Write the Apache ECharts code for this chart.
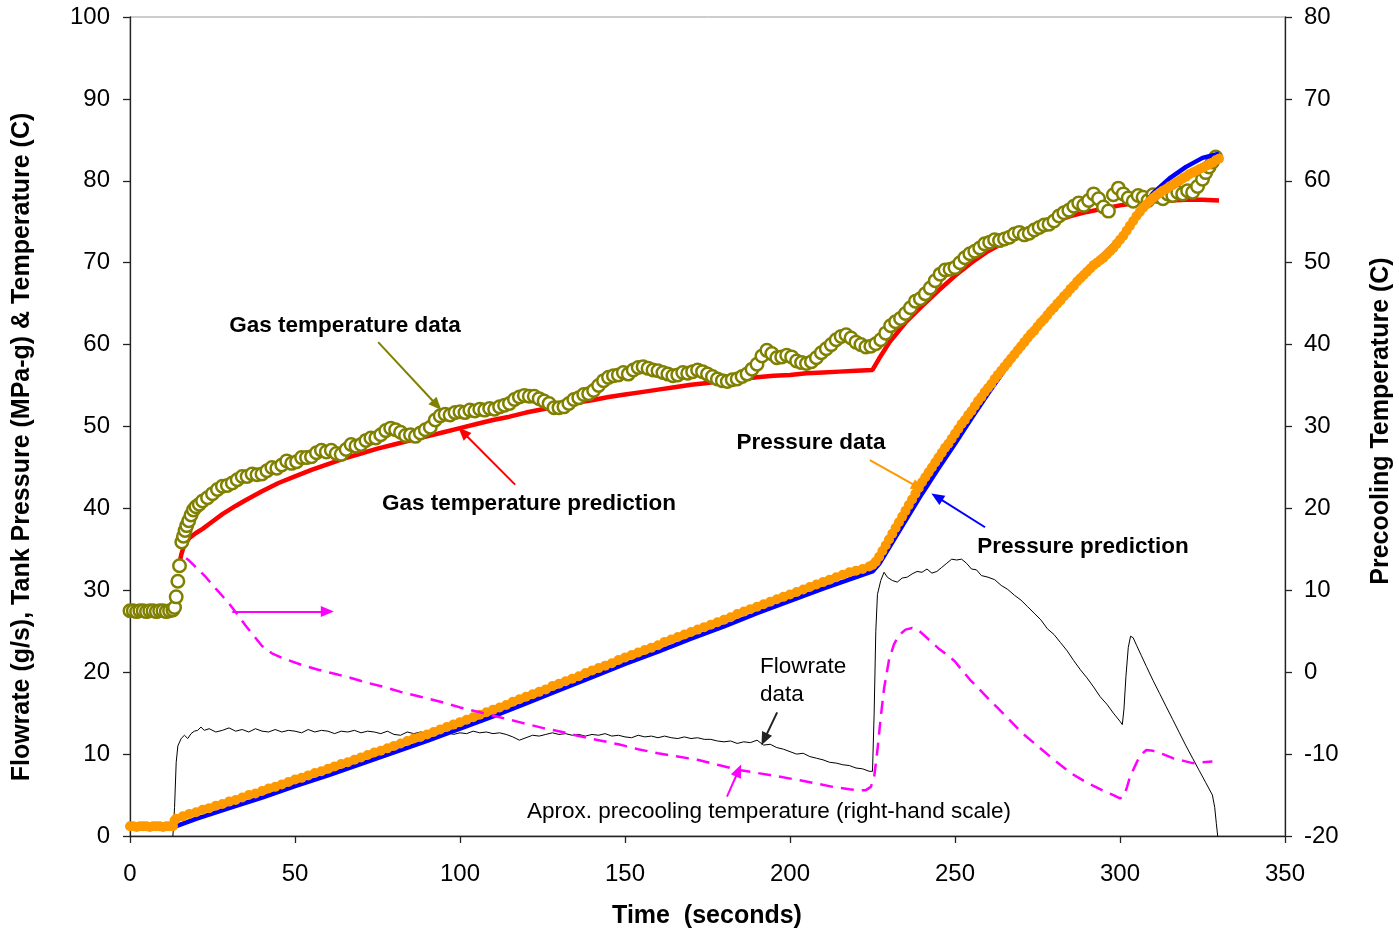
<!DOCTYPE html>
<html>
<head>
<meta charset="utf-8">
<script src="https://cdn.jsdelivr.net/npm/echarts@6/dist/echarts.min.js"></script>
<style>
html,body{margin:0;padding:0;background:#fff;}
#chart{width:1399px;height:932px;}
</style>
</head>
<body>
<div id="chart"></div>
<script>
// ---- tick settings ----
const xTicks = {min: 0, max: 350, interval: 50};
const leftTicks = {min: 0, max: 100, interval: 10};
const rightTicks = {min: -20, max: 80, interval: 10};

// ---- Gas temperature data (time s, deg C) ----
const gasTempData = [[0,27.5],[1,27.5],[2,27.4],[3,27.5],[4,27.5],[5,27.4],[6,27.5],[7,27.5],[8,27.4],[9,27.5],[10,27.5],[11,27.4],[12,27.5],[13,27.6],[13.5,27.9],[14,29.2],[14.5,31.1],[15,33.0],[15.7,35.9],[16.2,36.6],[16.7,37.3],[17.2,37.9],[17.8,38.5],[18.5,39.2],[19.2,39.8],[20,40.2],[21,40.5],[22,40.9],[23.5,41.3],[25,41.8],[26.5,42.3],[28,42.7],[29.5,42.8],[31,43.1],[32.5,43.5],[34,43.9],[35.5,43.9],[37,44.2],[38.5,44.1],[40,44.2],[41.5,44.6],[43,45.0],[44.5,44.9],[46,45.3],[47.5,45.8],[49,45.5],[50.5,45.7],[52,46.2],[53.5,46.2],[55,46.3],[56.5,46.8],[58,47.1],[59.5,46.9],[61,47.1],[62.5,46.7],[64,46.6],[65.5,47.2],[67,47.8],[68.5,47.6],[70,47.8],[71.5,48.3],[73,48.6],[74.5,48.6],[76,49.0],[77.5,49.5],[79,49.8],[80.5,49.6],[82,49.3],[83.5,48.9],[85,49.0],[86.5,48.8],[88,49.2],[89.5,49.6],[91,49.9],[92.5,50.8],[94,51.3],[95.5,51.5],[97,51.4],[98.5,51.7],[100,51.8],[101.5,51.7],[103,52.0],[104.5,51.9],[106,52.1],[107.5,52.0],[109,52.2],[110.5,52.1],[112,52.4],[113.5,52.6],[115,52.8],[116.5,53.3],[118,53.6],[119.5,53.8],[121,53.7],[122.5,53.7],[124,53.4],[125.5,53.1],[127,52.8],[128.5,52.3],[130,52.3],[131.5,52.4],[133,52.8],[134.5,53.3],[136,53.5],[137.5,53.9],[139,54.0],[140.5,54.4],[142,55.0],[143.5,55.6],[145,56.0],[146.5,56.2],[148,56.3],[149.5,56.6],[151,56.4],[152.5,56.9],[154,57.2],[155.5,57.3],[157,57.1],[158.5,56.9],[160,56.8],[161.5,56.6],[163,56.4],[164.5,56.2],[166,56.3],[167.5,56.6],[169,56.5],[170.5,56.7],[172,56.9],[173.5,56.7],[175,56.4],[176.5,56.1],[178,55.8],[179.5,55.6],[181,55.5],[182.5,55.7],[184,55.8],[185.5,56.1],[187,56.4],[188.5,57.0],[190,57.6],[191.5,58.6],[193,59.3],[194.5,58.9],[196,58.4],[197.5,58.5],[199,58.7],[200.5,58.5],[202,58.0],[203.5,57.8],[205,57.7],[206.5,57.9],[208,58.4],[209.5,59.0],[211,59.5],[212.5,60.0],[214,60.6],[215.5,61.0],[217,61.2],[218.5,60.8],[220,60.3],[221.5,60.0],[223,59.7],[224.5,59.8],[226,60.1],[227.5,60.6],[229,61.4],[230.5,62.3],[232,62.8],[233.5,63.2],[235,63.8],[236.5,64.5],[238,65.3],[239.5,65.6],[241,66.2],[242.5,66.9],[244,67.8],[245.5,68.6],[247,69.1],[248.5,69.2],[250,69.4],[251.5,70.0],[253,70.6],[254.5,71.1],[256,71.4],[257.5,71.8],[259,72.3],[260.5,72.5],[262,72.8],[263.5,72.7],[265,72.9],[266.5,73.1],[268,73.5],[269.5,73.7],[271,73.4],[272.5,73.6],[274,74.0],[275.5,74.3],[277,74.6],[278.5,74.7],[280,75.1],[281.5,75.7],[283,76.1],[284.5,76.4],[286,76.9],[287.5,77.3],[289,77.0],[290.5,77.6],[292,78.4],[293.5,77.8],[295,76.8],[296.5,76.3],[298,78.3],[299.5,79.1],[301,78.4],[302.5,77.9],[304,77.5],[305.5,78.2],[307,78.0],[308.5,77.6],[310,78.3],[311.5,78.1],[313,77.8],[314.5,78.4],[316,78.2],[317.5,78.6],[319,78.4],[320.5,78.8],[322,78.6],[323.5,79.3],[325,80.2],[326,81.0],[327,81.7],[328,82.3],[329,82.9]];

// ---- Gas temperature prediction ----
const gasTempPred = [[15,33.3],[15.5,34.3],[16,35.0],[17,35.8],[18,36.4],[20,37.0],[22,37.5],[25,38.4],[28,39.3],[32,40.3],[35,41.0],[40,42.1],[45,43.1],[50,43.9],[55,44.7],[60,45.4],[65,46.1],[70,46.7],[75,47.3],[80,47.8],[85,48.3],[90,48.8],[95,49.3],[100,49.8],[105,50.3],[110,50.8],[115,51.2],[120,51.7],[125,52.1],[130,52.5],[135,52.9],[140,53.2],[145,53.6],[150,53.9],[155,54.2],[160,54.5],[165,54.8],[170,55.1],[175,55.3],[180,55.6],[185,55.8],[190,56.0],[195,56.2],[200,56.3],[205,56.5],[210,56.6],[215,56.7],[220,56.8],[225,56.9],[227,58.3],[230,60.2],[235,62.7],[240,64.7],[245,66.6],[250,68.4],[255,70.0],[260,71.4],[265,72.5],[270,73.5],[275,74.3],[280,75.0],[285,75.7],[290,76.2],[295,76.6],[300,77.0],[305,77.3],[310,77.5],[315,77.6],[320,77.7],[325,77.7],[330,77.6]];

// ---- Pressure data (MPa-g) ----
const pressureData = [[0,1.2],[1,1.2],[2,1.1],[3,1.2],[4,1.2],[5,1.2],[6,1.1],[7,1.2],[8,1.2],[9,1.2],[10,1.1],[11,1.2],[12,1.2],[13,1.2],[13.5,1.9],[14,2.1],[16,2.4],[18,2.7],[20,2.9],[22,3.2],[24,3.4],[26,3.7],[28,3.9],[30,4.2],[32,4.4],[34,4.7],[36,5.0],[38,5.2],[40,5.5],[42,5.8],[44,6.0],[46,6.3],[48,6.6],[50,6.9],[52,7.1],[54,7.4],[56,7.7],[58,7.9],[60,8.2],[62,8.5],[64,8.8],[66,9.0],[68,9.3],[70,9.6],[72,9.9],[74,10.2],[76,10.4],[78,10.7],[80,11.0],[82,11.3],[84,11.6],[86,11.9],[88,12.1],[90,12.4],[92,12.7],[94,13.0],[96,13.3],[98,13.6],[100,13.9],[102,14.2],[104,14.5],[106,14.8],[108,15.1],[110,15.4],[112,15.7],[114,16.0],[116,16.4],[118,16.7],[120,17.0],[122,17.3],[124,17.6],[126,17.9],[128,18.3],[130,18.6],[132,18.9],[134,19.2],[136,19.5],[138,19.9],[140,20.2],[142,20.5],[144,20.8],[146,21.1],[148,21.5],[150,21.8],[152,22.1],[154,22.4],[156,22.7],[158,23.0],[160,23.3],[162,23.7],[164,24.0],[166,24.3],[168,24.6],[170,24.9],[172,25.2],[174,25.5],[176,25.8],[178,26.1],[180,26.4],[182,26.7],[184,27.1],[186,27.4],[188,27.7],[190,28.0],[192,28.3],[194,28.6],[196,28.9],[198,29.2],[200,29.5],[202,29.8],[204,30.1],[206,30.4],[208,30.7],[210,31.0],[212,31.3],[214,31.6],[216,31.9],[218,32.2],[220,32.4],[222,32.6],[224,32.9],[225,33.1],[226,33.5],[227,34.1],[228,34.8],[229,35.5],[230,36.2],[231,36.9],[232,37.6],[233,38.3],[234,39.0],[235,39.7],[236,40.4],[237,41.1],[238,41.8],[239,42.5],[240,43.2],[241,43.8],[242,44.4],[243,45.0],[244,45.6],[245,46.2],[246,46.8],[247,47.4],[248,47.9],[249,48.5],[250,49.1],[251,49.7],[252,50.3],[253,50.8],[254,51.4],[255,51.9],[256,52.5],[257,53.1],[258,53.6],[259,54.2],[260,54.7],[261,55.2],[262,55.8],[263,56.3],[264,56.8],[265,57.3],[266,57.8],[267,58.3],[268,58.8],[269,59.3],[270,59.8],[271,60.3],[272,60.8],[273,61.3],[274,61.7],[275,62.2],[276,62.7],[277,63.1],[278,63.6],[279,64.1],[280,64.5],[281,65.0],[282,65.4],[283,65.9],[284,66.3],[285,66.8],[286,67.2],[287,67.7],[288,68.1],[289,68.5],[290,68.9],[291,69.3],[292,69.7],[293,70.0],[294,70.3],[295,70.6],[296,71.0],[297,71.4],[298,71.8],[299,72.3],[300,72.8],[301,73.3],[302,73.9],[303,74.5],[304,75.1],[305,75.7],[306,76.2],[307,76.7],[308,77.1],[309,77.5],[310,77.9],[311,78.2],[312,78.5],[313,78.8],[314,79.0],[315,79.3],[316,79.5],[317,79.8],[318,80.0],[319,80.3],[320,80.5],[321,80.8],[322,81.0],[323,81.2],[324,81.4],[325,81.6],[326,81.8],[327,82.0],[328,82.2],[329,82.5],[330,82.7]];

// ---- Pressure prediction ----
const pressurePred = [[14,1.2],[20,2.1],[30,3.4],[40,4.7],[50,6.1],[60,7.4],[70,8.8],[80,10.2],[90,11.6],[100,13.1],[110,14.6],[120,16.2],[130,17.8],[140,19.4],[150,21.0],[160,22.5],[170,24.1],[180,25.6],[190,27.2],[200,28.7],[210,30.2],[220,31.6],[225,32.3],[227,33.2],[230,35.2],[235,38.5],[240,41.8],[245,44.9],[250,47.9],[255,51.0],[260,54.0],[265,56.9],[270,59.6],[275,62.2],[280,64.6],[285,67.0],[290,69.2],[295,71.0],[300,73.0],[305,75.9],[310,78.5],[315,80.3],[320,81.7],[325,82.8],[330,83.3]];

// ---- Flowrate data (g/s) ----
const flowData = [[13,0],[13.5,3.5],[14,9.0],[14.5,11.0],[15.5,11.9],[16.5,12.3],[17.5,11.9],[18.5,12.5],[19.5,12.8],[20.5,12.9],[21.5,13.3],[22.5,12.9],[24,13.1],[26,12.7],[28,12.9],[30,13.2],[32,12.8],[34,13.0],[36,12.7],[38,13.1],[40,12.8],[42,12.7],[44,13.0],[46,12.7],[48,12.9],[50,12.8],[52,12.6],[54,13.0],[56,12.7],[58,12.9],[60,12.8],[62,12.5],[64,12.8],[66,12.7],[68,12.9],[70,12.6],[72,12.8],[74,12.7],[76,12.5],[78,12.8],[80,12.4],[82,12.3],[84,12.7],[86,12.5],[88,12.7],[90,12.6],[92,12.8],[94,12.5],[96,12.7],[98,12.4],[100,12.6],[102,12.5],[104,12.8],[106,12.6],[108,12.7],[110,12.5],[112,12.6],[114,12.4],[116,12.1],[118,11.7],[120,12.0],[122,12.3],[124,12.2],[126,12.4],[128,12.6],[130,12.4],[132,12.5],[134,12.3],[136,12.4],[138,12.2],[140,12.4],[142,12.3],[144,12.5],[146,12.2],[148,12.3],[150,12.1],[152,12.0],[154,12.3],[156,12.1],[158,12.2],[160,12.0],[162,12.2],[164,12.0],[166,11.9],[168,12.1],[170,11.9],[172,12.0],[174,11.8],[176,11.8],[178,11.6],[180,11.5],[182,11.6],[184,11.3],[186,11.5],[188,11.4],[190,11.7],[192,11.1],[194,11.2],[196,10.8],[198,10.6],[200,10.3],[202,10.0],[204,10.1],[206,9.7],[208,9.5],[210,9.3],[212,9.0],[214,8.9],[216,8.7],[218,8.6],[220,8.3],[222,8.2],[224,7.9],[225,7.9],[225.5,15.0],[226,25.0],[226.5,29.5],[227.5,31.2],[228.5,32.2],[229.5,31.6],[231,31.2],[232.5,31.0],[234,31.5],[235.5,31.6],[237,32.0],[238.5,32.3],[240,32.2],[241.5,32.6],[243,32.1],[244.5,32.3],[246,32.8],[247.5,33.3],[249,33.8],[250.5,33.7],[252,33.8],[253.5,33.3],[255,32.6],[256.5,32.5],[258,31.8],[260,31.6],[262,31.3],[264,30.6],[266,30.1],[268,29.4],[270,28.8],[272,28.0],[274,27.2],[276,26.4],[278,25.3],[280,24.6],[282,23.6],[284,22.6],[286,21.4],[288,20.3],[290,19.3],[292,18.2],[294,17.0],[296,16.1],[298,15.0],[300,14.0],[300.7,13.6],[301.2,15.5],[301.8,19.5],[302.5,23.0],[303.2,24.4],[304,24.2],[305,23.3],[306.5,22.0],[308,20.7],[310,19.0],[312,17.4],[314,15.8],[316,14.2],[318,12.6],[320,11.0],[322,9.5],[324,8.0],[326,6.5],[328,5.0],[328.7,3.5],[329.2,1.5],[329.6,0]];

// ---- Approx. precooling temperature (right-hand scale, deg C) ----
const precoolTemp = [[17,13.9],[18,13.6],[20,12.8],[23,11.6],[26,10.2],[28,9.3],[30,8.4],[33,6.8],[35,5.7],[38,4.2],[40,3.2],[43,2.3],[47,1.6],[52,0.9],[57,0.3],[62,-0.2],[67,-0.7],[72,-1.3],[77,-1.8],[82,-2.4],[88,-3.0],[95,-3.7],[100,-4.3],[106,-4.9],[112,-5.5],[118,-6.1],[125,-6.8],[131,-7.3],[136,-7.8],[142,-8.3],[148,-8.8],[154,-9.4],[160,-9.9],[166,-10.3],[172,-10.7],[178,-11.3],[184,-11.9],[190,-12.3],[196,-12.7],[203,-13.2],[208,-13.6],[213,-14.0],[218,-14.3],[221,-14.4],[223,-14.4],[224.5,-14.0],[225.5,-12.8],[226.5,-9.5],[227.5,-5.5],[228.5,-2.0],[230,1.5],[231.5,3.4],[233,4.5],[235,5.2],[237,5.4],[239,5.1],[242,4.0],[245,2.9],[248,2.0],[250,1.3],[252,0.3],[254.5,-0.9],[257,-1.9],[260,-3.2],[263,-4.4],[266,-5.6],[270,-7.3],[275,-9.0],[280,-10.7],[285,-12.3],[290,-13.5],[295,-14.5],[298,-15.0],[300,-15.4],[301,-15.2],[302,-14.2],[303,-12.8],[304.5,-11.5],[306,-10.2],[308,-9.5],[310,-9.6],[313,-10.0],[316,-10.5],[319,-10.8],[322,-11.1],[325,-11.0],[328,-10.9]];

// ---- annotation arrows (from -> to, in left-axis data units) ----
const arrows = [
  {from:[75.2,60.3], to:[93.0,52.6], color:'#808000'},
  {from:[116.7,42.9], to:[100.9,49.3], color:'#FF0000'},
  {from:[224.2,45.9], to:[238.8,42.6], color:'#FF9900'},
  {from:[259.1,37.7], to:[244.5,41.4], color:'#0000FF'},
  {from:[196.1,15.1], to:[192.2,11.8], color:'#222222'},
  {from:[31.0,27.4], to:[59.8,27.4], color:'#FF00FF'},
  {from:[180.9,4.8], to:[184.4,8.0], color:'#FF00FF'}
];

const FONT = '"Liberation Sans", Arial, sans-serif';
const chart = echarts.init(document.getElementById('chart'), null, {renderer:'canvas'});

const axisCommon = {
  axisLine: {show:true, lineStyle:{color:'#222', width:1.3}},
  axisTick: {show:true, inside:false, length:7, lineStyle:{color:'#222', width:1.3}},
  splitLine: {show:false},
  axisLabel: {color:'#000', fontSize:24, fontFamily:FONT}
};

chart.setOption({
  animation: false,
  backgroundColor: '#fff',
  grid: {left:130, right:114, top:17, bottom:96, show:true, borderColor:'#9a9a9a', borderWidth:1},
  xAxis: Object.assign({}, axisCommon, {
    type:'value', min:xTicks.min, max:xTicks.max, interval:xTicks.interval,
    axisLabel: Object.assign({}, axisCommon.axisLabel, {margin:26})
  }),
  yAxis: [
    Object.assign({}, axisCommon, {
      type:'value', position:'left', min:leftTicks.min, max:leftTicks.max, interval:leftTicks.interval,
      axisLabel: Object.assign({}, axisCommon.axisLabel, {margin:20})
    }),
    Object.assign({}, axisCommon, {
      type:'value', position:'right', min:rightTicks.min, max:rightTicks.max, interval:rightTicks.interval,
      axisLabel: Object.assign({}, axisCommon.axisLabel, {margin:19})
    })
  ],
  series: [
    {
      name:'Flowrate data', type:'line', data:flowData, yAxisIndex:0, z:1,
      showSymbol:false, lineStyle:{color:'#000', width:1}, silent:true,
      markLine: {
        silent:true, symbol:['none','triangle'], symbolSize:[11,13],
        label:{show:false}, animation:false,
        data: arrows.map(a => [
          {coord:a.from, lineStyle:{color:a.color, width:2, type:'solid'}, itemStyle:{color:a.color}},
          {coord:a.to}
        ])
      }
    },
    {
      name:'Gas temperature prediction', type:'line', data:gasTempPred, yAxisIndex:0, z:2,
      showSymbol:false, lineStyle:{color:'#FF0000', width:4.5}, silent:true
    },
    {
      name:'Gas temperature data', type:'scatter', data:gasTempData, yAxisIndex:0, z:3, clip:false,
      symbol:'circle', symbolSize:12.5,
      itemStyle:{color:'#ffffff', borderColor:'#808000', borderWidth:2.5, opacity:1}, silent:true
    },
    {
      name:'Pressure prediction', type:'line', data:pressurePred, yAxisIndex:0, z:4,
      showSymbol:false, lineStyle:{color:'#0000FF', width:4.5}, silent:true
    },
    {
      name:'Pressure data', type:'scatter', data:pressureData, yAxisIndex:0, z:5, clip:false,
      symbol:'circle', symbolSize:10,
      itemStyle:{color:'#FF9900', opacity:1}, silent:true
    },
    {
      name:'Precooling temperature', type:'line', data:precoolTemp, yAxisIndex:1, z:6,
      showSymbol:false, lineStyle:{color:'#FF00FF', width:2.5, type:[13,8]}, silent:true
    }
  ],
  graphic: [
    {type:'text', x:345, y:326, style:{text:'Gas temperature data', font:'bold 22.5px '+FONT, fill:'#000', textAlign:'center', textVerticalAlign:'middle'}},
    {type:'text', x:529, y:504, style:{text:'Gas temperature prediction', font:'bold 22.5px '+FONT, fill:'#000', textAlign:'center', textVerticalAlign:'middle'}},
    {type:'text', x:811, y:443, style:{text:'Pressure data', font:'bold 22.5px '+FONT, fill:'#000', textAlign:'center', textVerticalAlign:'middle'}},
    {type:'text', x:1083, y:547, style:{text:'Pressure prediction', font:'bold 22.5px '+FONT, fill:'#000', textAlign:'center', textVerticalAlign:'middle'}},
    {type:'text', x:760, y:667, style:{text:'Flowrate', font:'22.5px '+FONT, fill:'#000', textAlign:'left', textVerticalAlign:'middle'}},
    {type:'text', x:760, y:695, style:{text:'data', font:'22.5px '+FONT, fill:'#000', textAlign:'left', textVerticalAlign:'middle'}},
    {type:'text', x:769, y:812, style:{text:'Aprox. precooling temperature (right-hand scale)', font:'22.5px '+FONT, fill:'#000', textAlign:'center', textVerticalAlign:'middle'}},
    {type:'text', x:707, y:916, style:{text:'Time  (seconds)', font:'bold 25px '+FONT, fill:'#000', textAlign:'center', textVerticalAlign:'middle'}},
    {type:'text', x:22, y:447, rotation:Math.PI/2, style:{text:'Flowrate (g/s), Tank Pressure (MPa-g) & Temperature (C)', font:'bold 25px '+FONT, fill:'#000', textAlign:'center', textVerticalAlign:'middle'}},
    {type:'text', x:1381, y:421, rotation:Math.PI/2, style:{text:'Precooling Temperature (C)', font:'bold 25px '+FONT, fill:'#000', textAlign:'center', textVerticalAlign:'middle'}}
  ]
});
</script>
</body>
</html>
